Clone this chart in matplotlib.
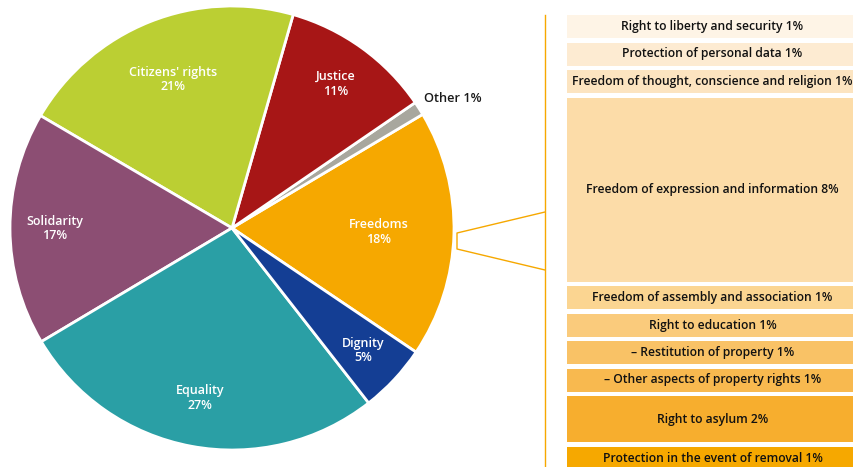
import numpy as np
import matplotlib
matplotlib.use("Agg")
import matplotlib.pyplot as plt

# pie data, counter-clockwise starting from the lower edge of "Freedoms"
slice_names = ["Freedoms", "Other", "Justice", "Citizens' rights", "Solidarity", "Equality", "Dignity"]
slice_pct = [18, 1, 11, 21, 17, 27, 5]
slice_colors = ["#F6A800", "#A8A79E", "#A71616", "#BBCF33", "#8C4E73", "#2A9FA5", "#143E94"]

# breakdown of the "Freedoms" slice
sub_names = [
    "Right to liberty and security",
    "Protection of personal data",
    "Freedom of thought, conscience and religion",
    "Freedom of expression and information",
    "Freedom of assembly and association",
    "Right to education",
    "\u2013 Restitution of property",
    "\u2013 Other aspects of property rights",
    "Right to asylum",
    "Protection in the event of removal",
]
sub_pct = [1, 1, 1, 8, 1, 1, 1, 1, 2, 1]
sub_colors = ["#FEF4E6", "#FDEBD2", "#FCE4C0", "#FCDCA8", "#FBD591", "#FACB7C",
              "#F9C266", "#F8B94F", "#F7AE2E", "#F6A800"]

plt.rcParams["font.family"] = ["Open Sans", "DejaVu Sans"]

W, H = 854, 467
fig = plt.figure(figsize=(W / 100, H / 100), dpi=100)
ax = fig.add_axes([0, 0, 1, 1])

cx, cy, R = 232, H - 228, 222
wedges, _ = ax.pie(slice_pct, colors=slice_colors, startangle=-34, counterclock=True,
                   center=(cx, cy), radius=R, frame=True,
                   wedgeprops=dict(edgecolor="white", linewidth=2))
ax.set_xlim(0, W)
ax.set_ylim(0, H)
ax.set_aspect("equal")
ax.axis("off")

label_r = [0.66, 1.05, 0.80, 0.72, 0.80, 0.78, 0.81]
for w, name, pct, r in zip(wedges, slice_names, slice_pct, label_r):
    th = np.radians((w.theta1 + w.theta2) / 2)
    x = cx + r * R * np.cos(th)
    y = cy + r * R * np.sin(th)
    if name == "Other":
        ax.text(x - 4, y + 4, f"{name} {pct}%", ha="left", va="center",
                fontsize=9.2, color="#1a1a1a", fontweight=600)
    else:
        ax.text(x, y, f"{name}\n{pct}%", ha="center", va="center",
                fontsize=9, color="white", fontweight=600, linespacing=1.15)

# stacked boxes on the right
top, gap, unit = 15, 4.5, 23
box_left, box_right = 567, W
y = top
for name, pct, col in zip(sub_names, sub_pct, sub_colors):
    h = pct * unit
    yc = H - (y + h / 2)
    ax.barh(yc, box_right - box_left, height=h, left=box_left, color=col, linewidth=0)
    ax.text((box_left + box_right) / 2 + 2, yc, f"{name} {pct}%", ha="center", va="center",
            fontsize=8.7, color="#111111", fontweight=600)
    y += h + gap

# bracket connecting the slice to the breakdown
line_col = "#F6A800"
ax.plot([545, 545], [H - 15, 0], color=line_col, lw=1)
ax.plot([545, 457, 457, 545], [H - 212, H - 233, H - 249, H - 270], color=line_col, lw=1)

fig.savefig("out.png", dpi=100)
